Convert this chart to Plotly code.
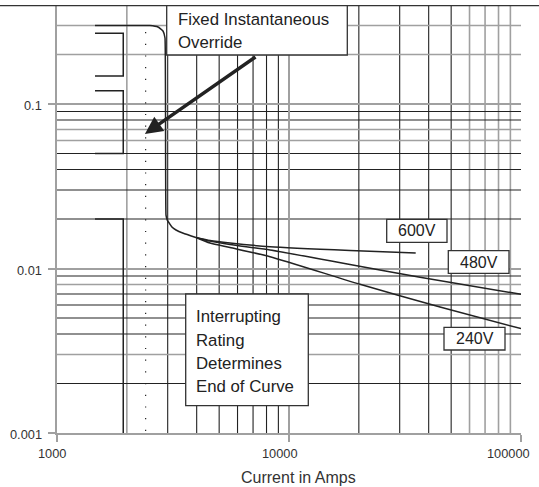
import math
import plotly.graph_objects as go

# ---------------- data ----------------
trunk_x = [1458, 2517, 2725, 2863, 2921, 2950, 2988, 3121, 3258, 3503, 4001]
trunk_y = [0.3, 0.3, 0.2938, 0.2779, 0.252, 0.0211, 0.0197, 0.01795, 0.01714, 0.01637, 0.01539]

v600_x = [4001, 4565, 5568, 8284, 18320, 35170]
v600_y = [0.01539, 0.0148, 0.01429, 0.01357, 0.01287, 0.01243]
v480_x = [4001, 4565, 5568, 8284, 18320, 36700, 100000]
v480_y = [0.01539, 0.01469, 0.01399, 0.01296, 0.01057, 0.00884, 0.00697]
v240_x = [4001, 4565, 5568, 8284, 20230, 44760, 100000]
v240_y = [0.01539, 0.01429, 0.01342, 0.0118, 0.00802, 0.00583, 0.00431]

bracket_x = [1458, 1930, 1930, 1458, None, 1458, 1930, 1930, 1458, None, 1458, 1930, 1930]
bracket_y = [0.269, 0.269, 0.148, 0.148, None, 0.1205, 0.1205, 0.05, 0.05, None, 0.02, 0.02, 0.001]

dotted_x = [2410, 2410]
dotted_y = [0.274, 0.001]

arrow_tip = (2393, 0.0658)
arrow_tail = (7278, 0.196)

xgrid_black = [3000, 4000, 5000, 6000, 7000, 8000, 9000, 20000, 30000, 40000, 50000]
xgrid_gray = [2000, 60000, 70000, 80000, 90000]
ygrid_black = [0.09, 0.08, 0.05, 0.04, 0.03, 0.02, 0.009, 0.007, 0.006, 0.005, 0.004, 0.002]
ygrid_gray = [0.3, 0.2, 0.07, 0.06, 0.008, 0.003]

x_tick_vals = [1000, 10000, 100000]
x_tick_text = ["1000", "10000", "100000"]
y_tick_vals = [0.001, 0.01, 0.1]
y_tick_text = ["0.001", "0.01", "0.1"]

voltage_labels = ["600V", "480V", "240V"]
fixed_text = ["Fixed Instantaneous", "Override"]
interrupt_text = ["Interrupting", "Rating", "Determines", "End of Curve"]
x_title = "Current in Amps"

# ---------------- layout helpers ----------------
W, H = 539, 487
L, R, T, B = 57, 521, 6, 433


def px(x):
    return (x - L) / (R - L)


def py(y):
    return (B - y) / (B - T)


FONT = "Liberation Sans, Arial, Helvetica, sans-serif"
GRAY = "#a0a0a0"
INK = "#222222"

fig = go.Figure()
fig.add_trace(go.Scatter(x=trunk_x, y=trunk_y, mode="lines", line=dict(color=INK, width=1.5, shape="spline", smoothing=0.3), hoverinfo="skip"))
for xs, ys in [(v600_x, v600_y), (v480_x, v480_y), (v240_x, v240_y)]:
    fig.add_trace(go.Scatter(x=xs, y=ys, mode="lines", line=dict(color=INK, width=1.5, shape="spline", smoothing=0.6), hoverinfo="skip"))
fig.add_trace(go.Scatter(x=bracket_x, y=bracket_y, mode="lines", line=dict(color=INK, width=1.5), hoverinfo="skip", connectgaps=False))
fig.add_trace(go.Scatter(x=dotted_x, y=dotted_y, mode="lines", line=dict(color=INK, width=1.2, dash="1.2px,10.5px"), hoverinfo="skip"))

shapes = []
for v in xgrid_black:
    shapes.append(dict(type="line", xref="x", yref="paper", x0=v, x1=v, y0=0, y1=1, layer="between", line=dict(color=INK, width=1.1)))
for v in xgrid_gray:
    shapes.append(dict(type="line", xref="x", yref="paper", x0=v, x1=v, y0=0, y1=1, layer="between", line=dict(color=GRAY, width=1.6)))
for v in ygrid_black:
    shapes.append(dict(type="line", xref="paper", yref="y", x0=0, x1=1, y0=v, y1=v, layer="between", line=dict(color=INK, width=1.1)))
for v in ygrid_gray:
    shapes.append(dict(type="line", xref="paper", yref="y", x0=0, x1=1, y0=v, y1=v, layer="between", line=dict(color=GRAY, width=1.6)))

# page rule at top
shapes.append(dict(type="line", xref="paper", yref="paper", x0=px(0), x1=px(W), y0=py(5.7), y1=py(5.7), layer="above", line=dict(color="#333", width=1.2)))

# text boxes (pixel geometry)
boxes = [
    (166.7, 5.7, 347.3, 55),
    (185.7, 294, 308.3, 405.7),
    (386.7, 219.3, 447, 242.3),
    (448.3, 250.7, 509, 273.3),
    (444, 327.3, 505, 350),
]
for x0, y0, x1, y1 in boxes:
    shapes.append(dict(type="rect", xref="paper", yref="paper", x0=px(x0), x1=px(x1), y0=py(y1), y1=py(y0), layer="above", fillcolor="white", line=dict(color="#333", width=1.3)))

ann = []
txt_font = dict(family=FONT, size=16.8, color=INK)
for i, t in enumerate(fixed_text):
    ann.append(dict(xref="paper", yref="paper", x=px(175.5), y=py([19.5, 42.5][i]), text=t, showarrow=False, xanchor="left", yanchor="middle", font=txt_font))
for i, t in enumerate(interrupt_text):
    ann.append(dict(xref="paper", yref="paper", x=px(193.5), y=py(317 + 23.3 * i), text=t, showarrow=False, xanchor="left", yanchor="middle", font=txt_font))
v_centers = [(417, 231), (478.7, 262), (474.5, 338.7)]
for t, (cx, cy) in zip(voltage_labels, v_centers):
    ann.append(dict(xref="paper", yref="paper", x=px(cx), y=py(cy), text=t, showarrow=False, xanchor="center", yanchor="middle", font=dict(family=FONT, size=16, color=INK)))

# arrow
ann.append(dict(xref="x", yref="y", axref="x", ayref="y",
                x=math.log10(arrow_tip[0]), y=math.log10(arrow_tip[1]),
                ax=math.log10(arrow_tail[0]), ay=math.log10(arrow_tail[1]),
                text="", showarrow=True, arrowhead=2, arrowsize=1.0, arrowwidth=3.5, arrowcolor=INK))

tick_font = dict(family=FONT, size=12.8, color="#333")
# x tick labels
for v, t in zip(x_tick_vals, x_tick_text):
    ann.append(dict(xref="x", yref="paper", x=math.log10(v), y=py(453), text=t, showarrow=False, xanchor="right", yanchor="middle", xshift=11, font=tick_font))
# y tick labels
for v, t in zip(y_tick_vals, y_tick_text):
    ann.append(dict(xref="paper", yref="y", x=px(43.5), y=math.log10(v), text=t, showarrow=False, xanchor="right", yanchor="middle", yshift=-1.5, font=tick_font))

ann.append(dict(xref="paper", yref="paper", x=px(298), y=py(477), text=x_title, showarrow=False, xanchor="center", yanchor="middle", font=dict(family=FONT, size=16, color="#333")))

fig.update_layout(
    width=W, height=H,
    margin=dict(l=L, r=W - R, t=T, b=H - B, pad=0),
    paper_bgcolor="white", plot_bgcolor="white",
    showlegend=False,
    shapes=shapes, annotations=ann,
    font=dict(family=FONT, size=12.5, color="#333"),
)
fig.update_xaxes(type="log", range=[3, 5], tickvals=x_tick_vals, showticklabels=False,
                 showgrid=True, gridcolor=GRAY, gridwidth=2,
                 showline=True, linecolor=GRAY, linewidth=2,
                 ticks="outside", ticklen=7, tickwidth=2, tickcolor=GRAY, zeroline=False)
fig.update_yaxes(type="log", range=[-3, math.log10(0.3944)], tickvals=y_tick_vals, showticklabels=False,
                 showgrid=True, gridcolor=GRAY, gridwidth=2,
                 showline=True, linecolor=GRAY, linewidth=2,
                 ticks="outside", ticklen=7, tickwidth=2, tickcolor=GRAY, zeroline=False)

fig.write_html("out.html", config={"displayModeBar": False},
               post_script="document.body.style.margin='0px';document.body.style.overflow='hidden';")
